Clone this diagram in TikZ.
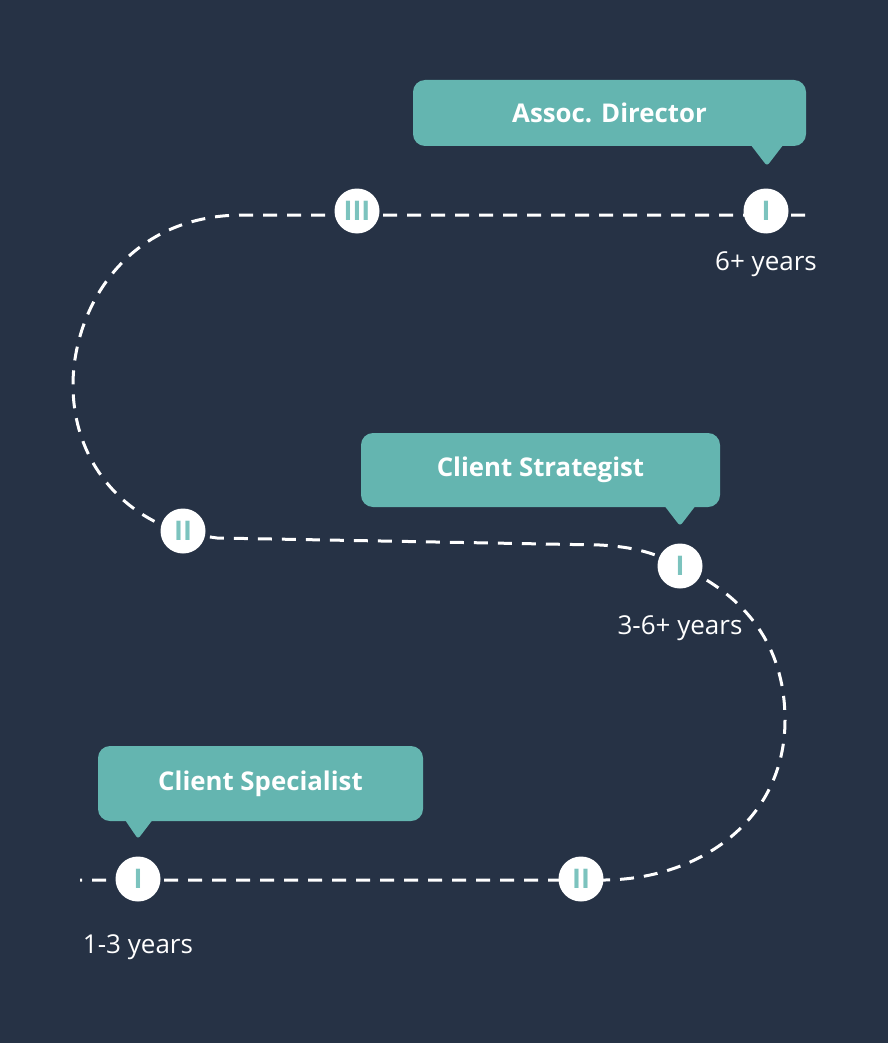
\documentclass[tikz,border=0pt]{standalone}
\usepackage{fontspec}
\setmainfont{Open Sans}
\definecolor{bg}{HTML}{263245}
\definecolor{tealc}{HTML}{64B5B0}
\definecolor{barc}{HTML}{7CC3BE}
\begin{document}
\begin{tikzpicture}[x=1pt,y=-1pt,
  bubble/.style={fill=tealc, rounded corners=12pt, inner sep=0pt, text=white, font=\fontsize{25.8}{30}\selectfont\bfseries},
  stage/.style={circle, fill=white, minimum size=45pt, inner sep=0pt, text=barc, font=\fontsize{27}{30}\selectfont\bfseries},
  years/.style={text=white, font=\fontsize{26}{30}\selectfont, inner sep=0pt},
  road/.style={draw=white, line width=3pt, dash pattern=on 14pt off 10pt}]
\fill[bg] (0,0) rectangle (888,1043);
\useasboundingbox (0,0) rectangle (888,1043);
% road points
\coordinate (topend) at (805,215);
\coordinate (pa1) at (766,215);
\coordinate (pa3) at (357,215);
\coordinate (pb2) at (183,533);
\coordinate (pb1) at (680,566);
\coordinate (pc2) at (581,880);
\coordinate (pc1) at (138,880);
\coordinate (botend) at (80,880);
% dashed road
\draw[road] (topend) -- (pa1) -- (pa3) -- (243,215)
  .. controls (125,215) and (73,310) .. (73,385)
  .. controls (73,455) and (115,512) .. (pb2)
  -- (217,538) -- (600,545)
  .. controls (635,547) and (655,553) .. (pb1)
  .. controls (755,600) and (785,655) .. (785,720)
  .. controls (785,820) and (700,879) .. (605,880)
  -- (pc2) -- (pc1) -- (botend);
% stage circles
\node[stage] (a1) at (766,211) {I};
\node[stage] (a3) at (357,211) {III};
\node[stage] (b2) at (183,531) {II};
\node[stage] (b1) at (680,566) {I};
\node[stage] (c2) at (581,879) {II};
\node[stage] (c1) at (138,879) {I};
% bubbles
\fill[tealc, rounded corners=3pt] (747,140) -- (787,140) -- (767,166) -- cycle;
\node[bubble, minimum width=393pt, minimum height=66pt] (ad) at (609.5,113) {Assoc. Director};
\fill[tealc, rounded corners=3pt] (660,500) -- (700,500) -- (680,526) -- cycle;
\node[bubble, minimum width=359pt, minimum height=74pt] (cs) at (540.5,470) {Client Strategist};
\fill[tealc, rounded corners=3pt] (121,814) -- (157,814) -- (138,839) -- cycle;
\node[bubble, minimum width=325pt, minimum height=75pt] (csp) at (260.5,783.5) {Client Specialist};
% years
\node[years] (y1) at (766,264) {6+ years};
\node[years] (y2) at (680,628) {3-6+ years};
\node[years] (y3) at (138,947) {1-3 years};
\end{tikzpicture}
\end{document}
